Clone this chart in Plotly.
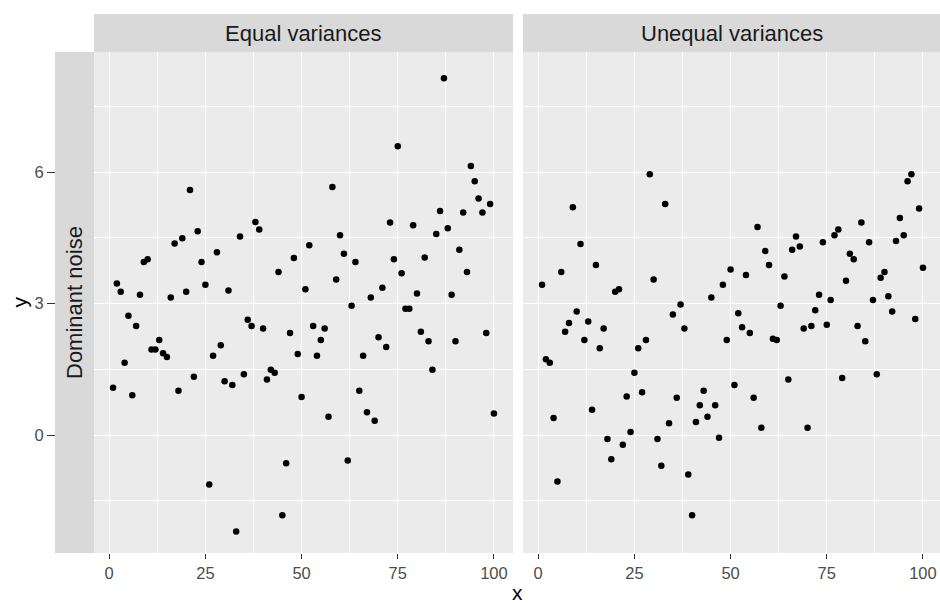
import plotly.graph_objects as go

# ---- data ----
x_vals = list(range(1, 101))

y_equal = [1.08, 3.46, 3.27, 1.65, 2.72, 0.91, 2.49, 3.20, 3.95, 4.01,
           1.95, 1.95, 2.17, 1.87, 1.78, 3.14, 4.37, 1.01, 4.49, 3.27,
           5.59, 1.33, 4.65, 3.95, 3.43, -1.13, 1.81, 4.17, 2.05, 1.23,
           3.30, 1.14, -2.20, 4.53, 1.39, 2.63, 2.49, 4.86, 4.69, 2.43,
           1.27, 1.49, 1.42, 3.72, -1.83, -0.64, 2.33, 4.04, 1.85, 0.87,
           3.33, 4.33, 2.49, 1.81, 2.17, 2.43, 0.42, 5.66, 3.55, 4.56,
           4.14, -0.58, 2.95, 3.95, 1.01, 1.81, 0.52, 3.14, 0.33, 2.23,
           3.36, 2.01, 4.85, 4.01, 6.59, 3.69, 2.88, 2.88, 4.79, 3.23,
           2.36, 4.05, 2.14, 1.49, 4.59, 5.11, 8.14, 4.72, 3.20, 2.14,
           4.23, 5.08, 3.72, 6.14, 5.79, 5.40, 5.08, 2.33, 5.27, 0.49]

y_unequal = [3.43, 1.73, 1.65, 0.39, -1.06, 3.72, 2.36, 2.56, 5.20, 2.82,
             4.36, 2.17, 2.59, 0.58, 3.88, 1.98, 2.43, -0.09, -0.55, 3.27,
             3.33, -0.22, 0.88, 0.07, 1.42, 1.98, 0.98, 2.17, 5.95, 3.55,
             -0.09, -0.70, 5.27, 0.27, 2.75, 0.85, 2.98, 2.43, -0.90, -1.83,
             0.30, 0.68, 1.01, 0.42, 3.14, 0.68, -0.06, 3.43, 2.17, 3.78,
             1.14, 2.78, 2.46, 3.65, 2.33, 0.85, 4.75, 0.17, 4.20, 3.88,
             2.20, 2.17, 2.95, 3.62, 1.27, 4.23, 4.53, 4.30, 2.43, 0.17,
             2.49, 2.85, 3.20, 4.40, 2.52, 3.08, 4.56, 4.69, 1.30, 3.52,
             4.14, 4.01, 2.49, 4.85, 2.14, 4.40, 3.08, 1.39, 3.59, 3.72,
             3.17, 2.82, 4.43, 4.95, 4.56, 5.79, 5.95, 2.65, 5.17, 3.82]

facet_labels = ["Equal variances", "Unequal variances"]
row_label = "Dominant noise"
x_ticks = [0, 25, 50, 75, 100]
y_ticks = [0, 3, 6]

# ---- layout geometry (pixels) ----
W, H = 940, 604
def px(v): return v / W
def py(v): return 1 - v / H

panel_top, panel_bot = 52, 553
left_l, left_r = 94, 513
right_l, right_r = 523, 940
strip_top = 14
lstrip_l = 55

x_range_left = [-3.95, 104.95]
scale = (left_r - left_l) / (x_range_left[1] - x_range_left[0])
x_range_right = [-3.95, -3.95 + (right_r - right_l) / scale]
y_range = [-2.69, 8.74]

FONT = "Liberation Sans, Arial, sans-serif"
TICK_COL = "#4D4D4D"

fig = go.Figure()
fig.add_trace(go.Scatter(x=x_vals, y=y_equal, mode="markers",
                         marker=dict(color="black", size=6.5),
                         xaxis="x", yaxis="y", showlegend=False, hoverinfo="x+y"))
fig.add_trace(go.Scatter(x=x_vals, y=y_unequal, mode="markers",
                         marker=dict(color="black", size=6.5),
                         xaxis="x2", yaxis="y2", showlegend=False, hoverinfo="x+y"))

xcommon = dict(tickvals=x_ticks, ticks="outside", ticklen=5, tickwidth=1.1,
               tickcolor="#333333", showgrid=True, gridcolor="white", gridwidth=1.1,
               zeroline=False, showline=False,
               tickfont=dict(family=FONT, size=16.5, color=TICK_COL),
               minor=dict(dtick=12.5, tick0=0, showgrid=True, gridcolor="white",
                          gridwidth=0.55, ticks=""),
               fixedrange=True)
ycommon = dict(range=y_range, tickvals=y_ticks, showgrid=True, gridcolor="white",
               gridwidth=1.1, zeroline=False, showline=False,
               minor=dict(dtick=1.5, tick0=0, showgrid=True, gridcolor="white",
                          gridwidth=0.55, ticks=""),
               fixedrange=True)

fig.update_layout(
    width=W, height=H,
    margin=dict(l=0, r=0, t=0, b=0),
    paper_bgcolor="white", plot_bgcolor="#EBEBEB",
    xaxis=dict(domain=[px(left_l), px(left_r)], range=x_range_left, anchor="y", **xcommon),
    xaxis2=dict(domain=[px(right_l), px(right_r)], range=x_range_right, anchor="y2", **xcommon),
    yaxis=dict(domain=[py(panel_bot), py(panel_top)], anchor="x",
               ticks="outside", ticklen=left_l - 48, tickwidth=1.1, tickcolor="#333333",
               tickfont=dict(family=FONT, size=16.5, color=TICK_COL), **ycommon),
    yaxis2=dict(domain=[py(panel_bot), py(panel_top)], anchor="x2",
                showticklabels=False, ticks="", **ycommon),
    showlegend=False,
)

shapes = []
# top strips
for l, r in [(left_l, left_r), (right_l, right_r)]:
    shapes.append(dict(type="rect", xref="paper", yref="paper",
                       x0=px(l), x1=px(r), y0=py(panel_top), y1=py(strip_top),
                       fillcolor="#D9D9D9", line=dict(width=0), layer="above"))
# left strip (covers the long y ticks)
shapes.append(dict(type="rect", xref="paper", yref="paper",
                   x0=px(lstrip_l), x1=px(left_l), y0=py(panel_bot), y1=py(panel_top),
                   fillcolor="#D9D9D9", line=dict(width=0), layer="above"))
fig.update_layout(shapes=shapes)

ann = []
for label, (l, r) in zip(facet_labels, [(left_l, left_r), (right_l, right_r)]):
    ann.append(dict(text=label, x=px((l + r) / 2), y=py((strip_top + panel_top) / 2),
                    xref="paper", yref="paper", showarrow=False,
                    xanchor="center", yanchor="middle",
                    font=dict(family=FONT, size=22, color="#1A1A1A")))
ann.append(dict(text=row_label, x=px((lstrip_l + left_l) / 2),
                y=py((panel_top + panel_bot) / 2), xref="paper", yref="paper",
                showarrow=False, textangle=-90, xanchor="center", yanchor="middle",
                font=dict(family=FONT, size=22, color="#1A1A1A")))
ann.append(dict(text="x", x=px((left_l + right_r) / 2), y=py(592),
                xref="paper", yref="paper", showarrow=False,
                xanchor="center", yanchor="middle",
                font=dict(family=FONT, size=21, color="black")))
ann.append(dict(text="y", x=px(19), y=py((panel_top + panel_bot) / 2),
                xref="paper", yref="paper", showarrow=False, textangle=-90,
                xanchor="center", yanchor="middle",
                font=dict(family=FONT, size=21, color="black")))
fig.update_layout(annotations=ann)

fig.write_html("out.html")
